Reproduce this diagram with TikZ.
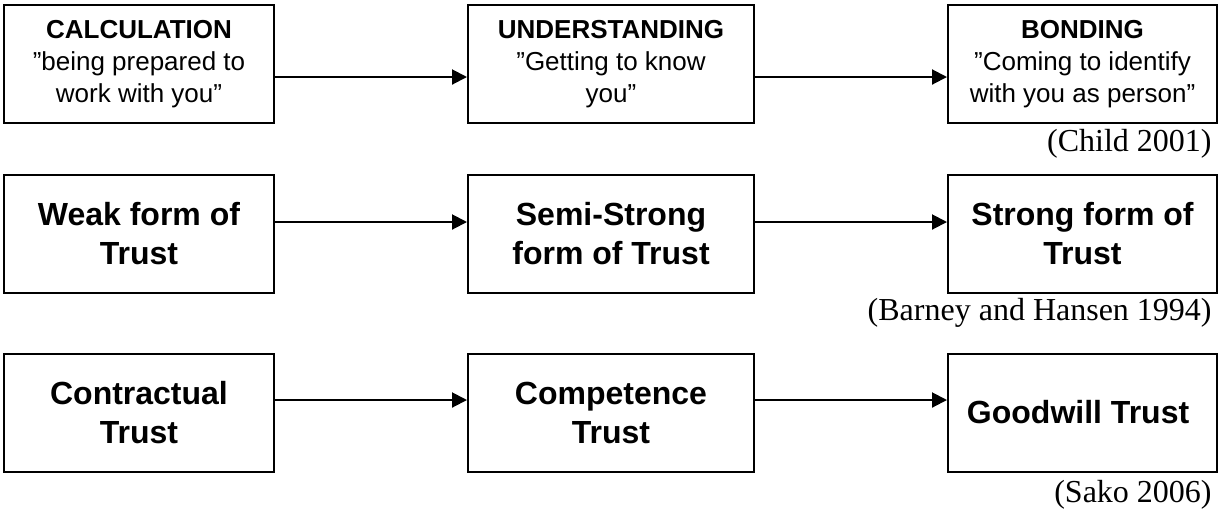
\documentclass[tikz,border=0pt]{standalone}
\usepackage{fontspec}
\setmainfont{Liberation Sans}
\newfontfamily\citefont{Liberation Serif}
\usetikzlibrary{arrows.meta,positioning}
\tikzset{
	%Define standard arrow tip
	>={Triangle[length=7.5pt,width=7.5pt]},
	%Define style for boxes
	box/.style={
		rectangle,
		draw=black, line width=1pt,
		minimum height=59pt,
		align=center,
		inner sep=0pt},
	stageBox/.style={box, font=\fontsize{13}{16}\selectfont},
	trustBox/.style={box, font=\bfseries\fontsize{16}{19.5}\selectfont},
	% Define style for the sources
	citeStyle/.style={
		anchor=base east,
		inner sep=0pt,
		font=\citefont\fontsize{16}{19}\selectfont},
	% Define arrow style
	edgeStyle/.style={
		->,
		line width=1pt}
}

\begin{document}
\begin{tikzpicture}[x=0.5pt,y=-0.5pt]
		\useasboundingbox (0,0) rectangle (1219,510);
		
		%nodes
		\node[stageBox, minimum width=135pt] (calc) at (139,64) {
			\textbf{CALCULATION}\\
			”being prepared to\\
			work with you”
		};
		\node[stageBox, minimum width=143pt, right=96pt of calc] (under) {
			\textbf{UNDERSTANDING}\\
			”Getting to know\\
			you”
		};
		\node[stageBox, minimum width=134.5pt, right=96pt of under] (bond) {
			\textbf{BONDING}\\
			”Coming to identify\\
			with you as person”
		};
		\node[citeStyle] (childRef) at (1212,151) {(Child 2001)};
		
		\node[trustBox, minimum width=135pt] (weak) at (139,234) {
			Weak form of\\
			Trust
		};
		\node[trustBox, minimum width=143pt, right=96pt of weak] (semi) {
			Semi-Strong\\
			form of Trust
		};
		\node[trustBox, minimum width=134.5pt, right=96pt of semi] (strong) {
			Strong form of\\
			Trust
		};
		\node[citeStyle] (barneyRef) at (1212,320) {(Barney and Hansen 1994)};
		
		\node[trustBox, minimum width=135pt] (contract) at (139,412.5) {
			Contractual\\
			Trust
		};
		\node[trustBox, minimum width=143pt, right=96pt of contract] (compet) {
			Competence\\
			Trust
		};
		\node[trustBox, minimum width=134.5pt, right=96pt of compet] (goodwill) {
			Goodwill Trust
		};
		\node[citeStyle] (sakoRef) at (1212,502) {(Sako 2006)};
		
		%arrows
		\draw[edgeStyle] ([yshift=-6.5pt]calc.east) -- ([yshift=-6.5pt]under.west);
		\draw[edgeStyle] ([yshift=-6.5pt]under.east) -- ([yshift=-6.5pt]bond.west);
		\draw[edgeStyle] ([yshift=6pt]weak.east) -- ([yshift=6pt]semi.west);
		\draw[edgeStyle] ([yshift=6pt]semi.east) -- ([yshift=6pt]strong.west);
		\draw[edgeStyle] ([yshift=6.25pt]contract.east) -- ([yshift=6.25pt]compet.west);
		\draw[edgeStyle] ([yshift=6.25pt]compet.east) -- ([yshift=6.25pt]goodwill.west);
		
\end{tikzpicture}
\end{document}
